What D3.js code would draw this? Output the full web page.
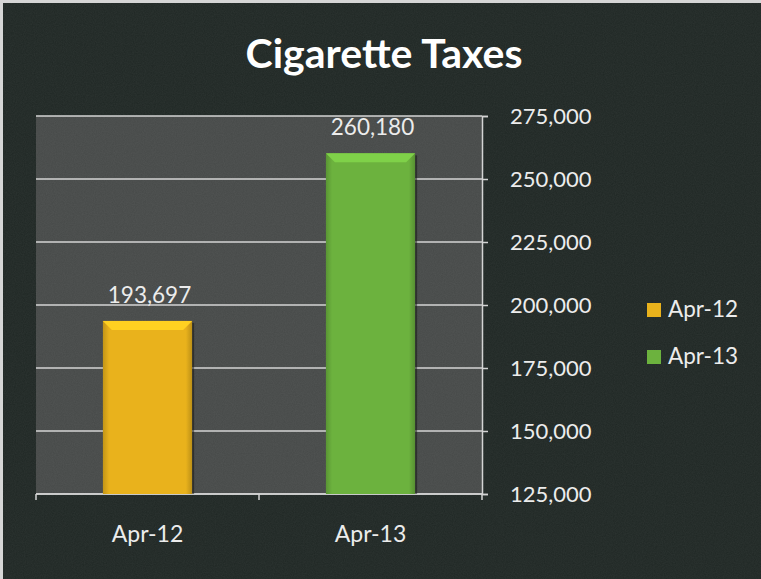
<!DOCTYPE html>
<html>
<head>
<meta charset="utf-8">
<script src="https://cdn.jsdelivr.net/npm/d3@7"></script>
<style>
  body { margin: 0; background: #1f2724; overflow: hidden; }
  #graph { width: 761px; height: 579px; }
  svg { display: block; }
</style>
</head>
<body>
<div id="graph"></div>
<script>
// Data ////////////////////////////////////////////////////////////////
const categories = ["Apr-12", "Apr-13"];
const values = [193697, 260180];
const colors = ["#e9b21c", "#6cb23e"];
const yTicks = [125000, 150000, 175000, 200000, 225000, 250000, 275000];

// Constants ////////////////////////////////////////////////////////////
const svgWidth = 761;
const svgHeight = 579;
const plot = { left: 36, right: 482, top: 116, bottom: 494 };
const font = "Lato, 'Open Sans', sans-serif";
const textColor = "#ececec";
const lineColor = "#d4d4d4";

const svg = d3
  .select("#graph")
  .append("svg")
  .attr("width", svgWidth)
  .attr("height", svgHeight);

const defs = svg.append("defs");

// Grainy texture
const noise = defs.append("filter")
  .attr("id", "noise")
  .attr("filterUnits", "userSpaceOnUse")
  .attr("x", 0).attr("y", 0)
  .attr("width", svgWidth).attr("height", svgHeight);
noise.append("feTurbulence")
  .attr("type", "fractalNoise")
  .attr("baseFrequency", 0.9)
  .attr("numOctaves", 2)
  .attr("result", "n");
noise.append("feColorMatrix")
  .attr("type", "matrix")
  .attr("values", "0 0 0 0 1  0 0 0 0 1  0 0 0 0 1  0 0 0 0.06 0");

// Bar gradients (bevel-like)
colors.forEach((c, i) => {
  const g = defs.append("linearGradient")
    .attr("id", `grad${i}`)
    .attr("x1", 0).attr("x2", 1).attr("y1", 0).attr("y2", 0);
  g.append("stop").attr("offset", "0%").attr("stop-color", d3.color(c).darker(0.5));
  g.append("stop").attr("offset", "7%").attr("stop-color", c);
  g.append("stop").attr("offset", "93%").attr("stop-color", c);
  g.append("stop").attr("offset", "100%").attr("stop-color", d3.color(c).darker(0.6));
});

// Background
svg.append("rect")
  .attr("width", svgWidth).attr("height", svgHeight)
  .style("fill", "#1f2724");

// Scales ///////////////////////////////////////////////////////////////
const x = d3.scaleBand()
  .domain(categories)
  .range([plot.left, plot.right])
  .paddingInner(0.6)
  .paddingOuter(0.3);

const y = d3.scaleLinear()
  .domain([125000, 275000])
  .range([plot.bottom, plot.top]);

// Plot area
svg.append("rect")
  .attr("x", plot.left).attr("y", plot.top)
  .attr("width", plot.right - plot.left)
  .attr("height", plot.bottom - plot.top)
  .style("fill", "#464948");

svg.append("rect")
  .attr("width", svgWidth).attr("height", svgHeight)
  .attr("filter", "url(#noise)");

// light page edges (top and left)
svg.append("rect")
  .attr("x", 0).attr("y", 0).attr("width", svgWidth).attr("height", 3)
  .style("fill", "#d6d6d6");
svg.append("rect")
  .attr("x", 0).attr("y", 0).attr("width", 3).attr("height", svgHeight)
  .style("fill", "#d6d6d6");

// Gridlines
svg.append("g")
  .selectAll("line")
  .data(yTicks)
  .join("line")
  .attr("x1", plot.left)
  .attr("x2", plot.right)
  .attr("y1", d => y(d))
  .attr("y2", d => y(d))
  .style("stroke", lineColor)
  .style("stroke-width", 1.5);

// Right axis
const yAxis = svg.append("g")
  .attr("transform", `translate(${plot.right},0)`)
  .call(d3.axisRight(y).tickValues(yTicks).tickSize(6).tickPadding(22).tickFormat(d3.format(",")));

yAxis.selectAll("text").attr("dy", "0.36em");

// Bottom axis
const xAxis = svg.append("g")
  .attr("transform", `translate(0,${plot.bottom})`)
  .call(d3.axisBottom(x).tickSize(0).tickPadding(32));

xAxis.selectAll(".tick line").remove();
xAxis.select(".domain").attr("d", `M${plot.left},0H${plot.right}`);

// category boundary ticks
svg.append("g")
  .selectAll("line")
  .data(d3.range(categories.length + 1))
  .join("line")
  .attr("x1", i => plot.left + i * x.step())
  .attr("x2", i => plot.left + i * x.step())
  .attr("y1", plot.bottom)
  .attr("y2", plot.bottom + 6)
  .style("stroke", lineColor)
  .style("stroke-width", 1.5);

[yAxis, xAxis].forEach(a => {
  a.selectAll(".domain").style("stroke", lineColor).style("stroke-width", 1.5);
  a.selectAll(".tick line").style("stroke", lineColor).style("stroke-width", 1.5);
  a.selectAll("text")
    .style("fill", textColor)
    .style("font-family", font)
    .style("font-size", "22px");
});
xAxis.selectAll("text").style("font-size", "23px");

// Bars
const bars = svg.append("g")
  .selectAll("g")
  .data(categories)
  .join("g");

bars.append("rect")
  .attr("x", d => x(d) + 2)
  .attr("y", (d, i) => y(values[i]) + 2)
  .attr("width", x.bandwidth())
  .attr("height", (d, i) => plot.bottom - y(values[i]) - 2)
  .style("fill", "#111")
  .style("opacity", 0.5);

bars.append("rect")
  .attr("x", d => x(d))
  .attr("y", (d, i) => y(values[i]))
  .attr("width", x.bandwidth())
  .attr("height", (d, i) => plot.bottom - y(values[i]))
  .style("fill", (d, i) => `url(#grad${i})`);

// top bevel
bars.append("path")
  .attr("d", (d, i) => {
    const x0 = x(d), x1 = x(d) + x.bandwidth(), t = y(values[i]), b = 9;
    return `M${x0},${t}L${x1},${t}L${x1 - b},${t + b}L${x0 + b},${t + b}Z`;
  })
  .style("fill", (d, i) => d3.color(colors[i]).brighter(0.45));

bars.append("text")
  .attr("x", d => x(d) + x.bandwidth() / 2 + 2)
  .attr("y", (d, i) => y(values[i]) - 18)
  .attr("text-anchor", "middle")
  .style("fill", textColor)
  .style("font-family", font)
  .style("font-size", "22.5px")
  .text((d, i) => d3.format(",")(values[i]));

// Title
svg.append("text")
  .attr("x", 384)
  .attr("y", 68)
  .attr("text-anchor", "middle")
  .style("fill", "#ffffff")
  .style("font-family", font)
  .style("font-weight", "bold")
  .style("font-size", "41px")
  .text("Cigarette Taxes");

// Legend
const legend = svg.append("g")
  .selectAll("g")
  .data(categories)
  .join("g")
  .attr("transform", (d, i) => `translate(647,${303 + i * 47})`);

legend.append("rect")
  .attr("width", 14).attr("height", 14)
  .style("fill", (d, i) => colors[i]);

legend.append("text")
  .attr("x", 21)
  .attr("y", 14)
  .style("fill", textColor)
  .style("font-family", font)
  .style("font-size", "22.5px")
  .text(d => d);
</script>
</body>
</html>
